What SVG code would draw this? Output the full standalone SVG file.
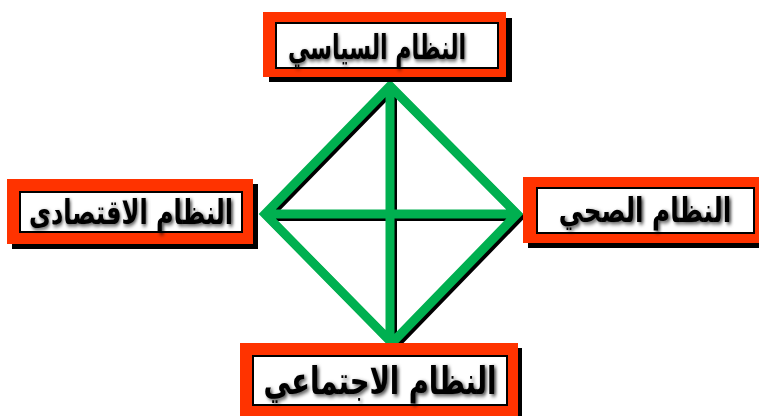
<svg xmlns="http://www.w3.org/2000/svg" width="759" height="416" viewBox="0 0 759 416">
<defs>
<filter id="ts" x="-10%" y="-30%" width="120%" height="160%">
<feGaussianBlur in="SourceAlpha" stdDeviation="2"/>
<feOffset dx="2" dy="2" result="b"/>
<feFlood flood-color="#000" flood-opacity="0.7"/>
<feComposite in2="b" operator="in"/>
<feMerge><feMergeNode/><feMergeNode in="SourceGraphic"/></feMerge>
</filter>
</defs>
<style>
.sh{fill:#000}
.out{fill:#ff3300}
.in{fill:#fff;stroke:#000;stroke-width:2}
.t{font-family:"DejaVu Sans",sans-serif;font-weight:bold;fill:#000;text-anchor:middle;direction:rtl;filter:url(#ts)}
.g{stroke:#00b050;stroke-width:9;fill:none;stroke-linecap:round;stroke-linejoin:miter}
.gs{stroke:#000;stroke-width:8;fill:none}
</style>
<rect width="759" height="416" fill="#fff"/>
<g id="connectors">
<path class="gs" d="M393,89 L520,217 L395,346 L268,217 Z M393,92 V344 M271,217 H517"/>
<path class="g" d="M390,86 L517,214 L392,343 L265,214 Z M390,89 V341 M268,214 H514"/>
</g>
<g id="n-top">
<rect class="sh" x="269" y="18" width="243" height="64"/>
<rect class="out" x="263" y="12" width="243" height="65"/>
<rect class="in" x="276" y="23" width="222" height="45"/>
<text class="t" transform="translate(377,59) scale(0.69,1.05)" font-size="32">النظام السياسي</text>
</g>
<g id="n-left">
<rect class="sh" x="12" y="184" width="246" height="65"/>
<rect class="out" x="7" y="179" width="246" height="65"/>
<rect class="in" x="20" y="192" width="222" height="40"/>
<text class="t" transform="translate(131,224) scale(0.75,1.05)" font-size="32">النظام الاقتصادى</text>
</g>
<g id="n-right">
<rect class="sh" x="528" y="182" width="236" height="66"/>
<rect class="out" x="523" y="177" width="236" height="66"/>
<rect class="in" x="537" y="188" width="217" height="45"/>
<text class="t" transform="translate(645,222) scale(0.77,1.05)" font-size="32">النظام الصحي</text>
</g>
<g id="n-bottom">
<rect class="sh" x="245" y="348" width="277" height="70"/>
<rect class="out" x="240" y="343" width="278" height="75"/>
<rect class="in" x="253" y="356" width="254" height="49"/>
<text class="t" transform="translate(380,394) scale(0.76,1.05)" font-size="36">النظام الاجتماعي</text>
</g>
</svg>
